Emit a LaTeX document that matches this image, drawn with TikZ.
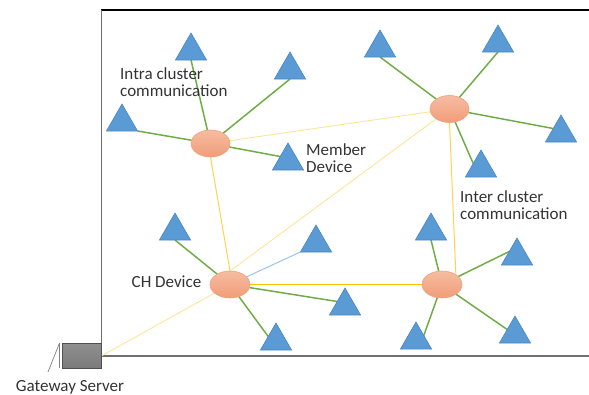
\documentclass[tikz,border=0pt]{standalone}
\usepackage{fontspec}
\setmainfont{Carlito}
\usetikzlibrary{shapes.geometric}
\definecolor{trifill}{HTML}{5B9BD5}
\definecolor{triedge}{HTML}{4A86C0}
\definecolor{chtop}{HTML}{F6BDA2}
\definecolor{chbot}{HTML}{F19C78}
\definecolor{chedge}{HTML}{F2A07C}
\definecolor{intra}{HTML}{70AD47}
\definecolor{linkblue}{HTML}{9DC3E6}
\definecolor{ystrong}{HTML}{FFC000}
\definecolor{ymed}{HTML}{FFD351}
\definecolor{ypale}{HTML}{FFE397}
\definecolor{txt}{HTML}{333333}
\definecolor{frameg}{HTML}{6F6F6F}
\definecolor{gwfill}{HTML}{7B7B7B}
\definecolor{gwedge}{HTML}{505050}
\pgfdeclarelayer{bg}
\pgfsetlayers{bg,main}
\tikzset{
  dev/.style={regular polygon, regular polygon sides=3, minimum size=36pt,
    inner sep=0pt, outer sep=0pt, fill=trifill, draw=triedge, line width=0.6pt},
  chnode/.style={ellipse, minimum width=39pt, minimum height=27pt, inner sep=0pt,
    outer sep=0pt, top color=chtop, bottom color=chbot, draw=chedge, line width=0.6pt},
  gwbox/.style={rectangle, minimum width=39.4pt, minimum height=25pt, inner sep=0pt,
    outer sep=0pt, top color=gwfill!85, bottom color=gwfill, draw=gwedge, line width=0.8pt},
  intraln/.style={draw=intra, line width=1.5pt},
  blueln/.style={draw=linkblue, line width=1pt},
  yel1/.style={draw=ypale, line width=0.9pt},
  yel2/.style={draw=ymed, line width=1pt},
  yel3/.style={draw=ystrong, line width=1.1pt},
  lbl/.style={font=\fontsize{17}{17}\selectfont, text=txt, inner sep=0pt, align=left},
}
\begin{document}
\begin{tikzpicture}[x=1pt,y=-1pt]
\useasboundingbox (0,0) rectangle (589,394);
% cluster heads
\node[chnode] (E1) at (210.5,143.5) {};
\node[chnode] (E2) at (449.5,109) {};
\node[chnode, minimum width=40pt] (E3) at (230,284.5) {};
\node[chnode, minimum width=40pt] (E4) at (442,284.5) {};
% member devices
\node[dev] (T1) at (191,51) {};
\node[dev] (T2) at (290,70) {};
\node[dev] (T3) at (122,122) {};
\node[dev] (T4) at (288,161) {};
\node[dev] (T5) at (380,48) {};
\node[dev] (T6) at (498,43) {};
\node[dev] (T7) at (561,133) {};
\node[dev] (T8) at (481,168) {};
\node[dev] (T9) at (175,231) {};
\node[dev] (T10) at (316,243) {};
\node[dev] (T11) at (345,306) {};
\node[dev] (T12) at (276,341) {};
\node[dev] (T13) at (431,231) {};
\node[dev] (T14) at (517,256) {};
\node[dev] (T15) at (416,340) {};
\node[dev] (T16) at (515,334) {};
% gateway
\node[gwbox] (GW) at (82,355.8) {};
\coordinate (TL) at (101.7,10);
\coordinate (TR) at (589,10);
% labels
\node[lbl, anchor=north west] (Lintra) at (120,67) {Intra cluster\\communication};
\node[lbl, anchor=north west] (Lmember) at (306,143) {Member\\Device};
\node[lbl, anchor=north west] (Linter) at (460,190) {Inter cluster\\communication};
\node[lbl, anchor=base west] (Lch) at (131.5,287) {CH Device};
\node[lbl, anchor=base] (Lgw) at (70,391) {Gateway Server};
\begin{pgfonlayer}{bg}
  % frame
  \draw[black, line width=1.6pt] ([xshift=-0.6pt]TL) -- (TR);
  \draw[frameg, line width=1.4pt] (GW.north east) -- (TL);
  \draw[frameg, line width=1.4pt] (GW.east) -- (GW.east -| TR);
  \draw[gray, line width=0.7pt] ([xshift=-3pt]GW.north west) -- ([xshift=-3pt]GW.south west);
  \draw[gray, line width=0.7pt] ([xshift=-3.3pt,yshift=-1pt]GW.north west) -- ([xshift=-14.3pt,yshift=-28.7pt]GW.north west);
  % inter cluster links
  \draw[yel1] (E1) -- (E2);
  \draw[yel2] (E1.south) -- (E3.north);
  \draw[yel2] (E2.south) -- (E4.35);
  \draw[yel3] (E3) -- (E4);
  \draw[yel1] (E3.north) -- (E2);
  \draw[yel1] (GW.east) -- (E3);
  % intra cluster links
  \draw[intraln] (E1) -- (T1.side 2);
  \draw[intraln] (E1) -- (T2.side 2);
  \draw[intraln] (E1) -- (T3.corner 3);
  \draw[intraln] (E1) -- (T4.side 1);
  \draw[intraln] (E2) -- (T5.side 2);
  \draw[intraln] (E2) -- (T6.side 2);
  \draw[intraln] (E2) -- (T7.side 1);
  \draw[intraln] (E2) -- (T8.side 1);
  \draw[intraln] (E3) -- (T9.side 2);
  \draw[blueln] (E3) -- (T10.corner 2);
  \draw[intraln] (E3) -- (T11.side 1);
  \draw[intraln] (E3) -- (T12.side 1);
  \draw[intraln] (E4) -- (T13.side 2);
  \draw[intraln] (E4) -- (T14.side 1);
  \draw[intraln] (E4) -- (T15.side 3);
  \draw[intraln] (E4) -- (T16.side 1);
\end{pgfonlayer}
\end{tikzpicture}
\end{document}
